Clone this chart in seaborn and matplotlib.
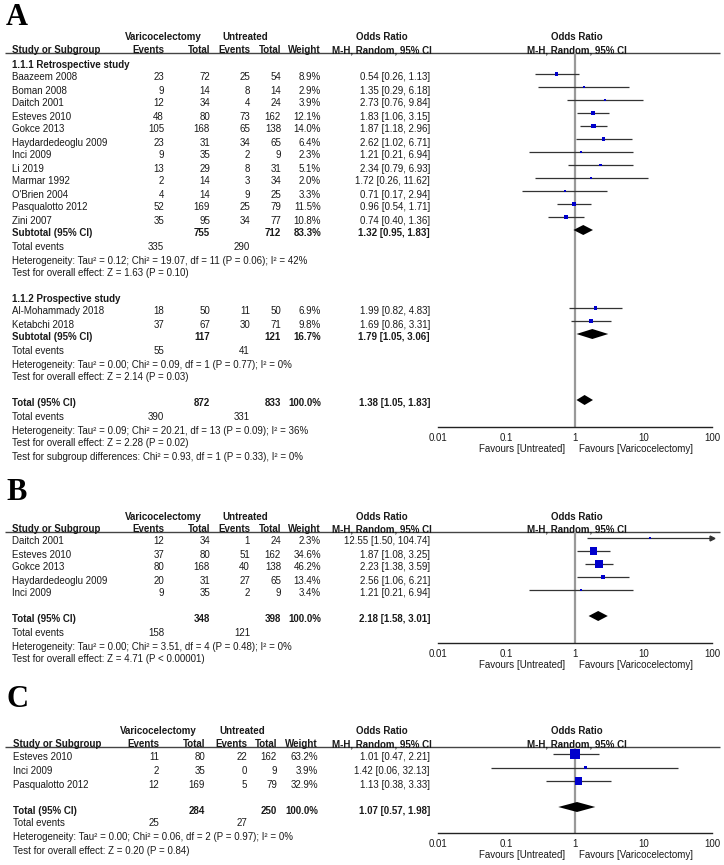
import numpy as np
import pandas as pd
import matplotlib
matplotlib.use("Agg")
import matplotlib.pyplot as plt
import seaborn as sns
from matplotlib.ticker import FixedLocator, FixedFormatter, NullLocator

sns.set_style("white")
plt.rcParams['font.family'] = ['Liberation Sans', 'DejaVu Sans']

# ---------------- DATA ----------------
# Panel A
A_study = ["Baazeem 2008", "Boman 2008", "Daitch 2001", "Esteves 2010", "Gokce 2013",
           "Haydardedeoglu 2009", "Inci 2009", "Li 2019", "Marmar 1992", "O'Brien 2004",
           "Pasqualotto 2012", "Zini 2007", "Al-Mohammady 2018", "Ketabchi 2018"]
A_group = [0] * 12 + [1] * 2
A_var_events = [23, 9, 12, 48, 105, 23, 9, 13, 2, 4, 52, 35, 18, 37]
A_var_total = [72, 14, 34, 80, 168, 31, 35, 29, 14, 14, 169, 95, 50, 67]
A_unt_events = [25, 8, 4, 73, 65, 34, 2, 8, 3, 9, 25, 34, 11, 30]
A_unt_total = [54, 14, 24, 162, 138, 65, 9, 31, 34, 25, 79, 77, 50, 71]
A_weight = [8.9, 2.9, 3.9, 12.1, 14.0, 6.4, 2.3, 5.1, 2.0, 3.3, 11.5, 10.8, 6.9, 9.8]
A_or = [0.54, 1.35, 2.73, 1.83, 1.87, 2.62, 1.21, 2.34, 1.72, 0.71, 0.96, 0.74, 1.99, 1.69]
A_lo = [0.26, 0.29, 0.76, 1.06, 1.18, 1.02, 0.21, 0.79, 0.26, 0.17, 0.54, 0.40, 0.82, 0.86]
A_hi = [1.13, 6.18, 9.84, 3.15, 2.96, 6.71, 6.94, 6.93, 11.62, 2.94, 1.71, 1.36, 4.83, 3.31]

A_sub_title = ["1.1.1 Retrospective study", "1.1.2 Prospective study"]
A_sub_var_total = [755, 117]
A_sub_unt_total = [712, 121]
A_sub_weight = [83.3, 16.7]
A_sub_or = [1.32, 1.79]
A_sub_lo = [0.95, 1.05]
A_sub_hi = [1.83, 3.06]
A_sub_var_events = [335, 55]
A_sub_unt_events = [290, 41]
A_sub_het = ["Heterogeneity: Tau\u00b2 = 0.12; Chi\u00b2 = 19.07, df = 11 (P = 0.06); I\u00b2 = 42%",
             "Heterogeneity: Tau\u00b2 = 0.00; Chi\u00b2 = 0.09, df = 1 (P = 0.77); I\u00b2 = 0%"]
A_sub_test = ["Test for overall effect: Z = 1.63 (P = 0.10)",
              "Test for overall effect: Z = 2.14 (P = 0.03)"]

A_tot = dict(var_total=872, unt_total=833, weight=100.0, orv=1.38, lo=1.05, hi=1.83,
             var_events=390, unt_events=331,
             het="Heterogeneity: Tau\u00b2 = 0.09; Chi\u00b2 = 20.21, df = 13 (P = 0.09); I\u00b2 = 36%",
             test="Test for overall effect: Z = 2.28 (P = 0.02)")
A_subgroup_diff = "Test for subgroup differences: Chi\u00b2 = 0.93, df = 1 (P = 0.33), I\u00b2 = 0%"

# Panel B
B_study = ["Daitch 2001", "Esteves 2010", "Gokce 2013", "Haydardedeoglu 2009", "Inci 2009"]
B_var_events = [12, 37, 80, 20, 9]
B_var_total = [34, 80, 168, 31, 35]
B_unt_events = [1, 51, 40, 27, 2]
B_unt_total = [24, 162, 138, 65, 9]
B_weight = [2.3, 34.6, 46.2, 13.4, 3.4]
B_or = [12.55, 1.87, 2.23, 2.56, 1.21]
B_lo = [1.50, 1.08, 1.38, 1.06, 0.21]
B_hi = [104.74, 3.25, 3.59, 6.21, 6.94]
B_tot = dict(var_total=348, unt_total=398, weight=100.0, orv=2.18, lo=1.58, hi=3.01,
             var_events=158, unt_events=121,
             het="Heterogeneity: Tau\u00b2 = 0.00; Chi\u00b2 = 3.51, df = 4 (P = 0.48); I\u00b2 = 0%",
             test="Test for overall effect: Z = 4.71 (P < 0.00001)")

# Panel C
C_study = ["Esteves 2010", "Inci 2009", "Pasqualotto 2012"]
C_var_events = [11, 2, 12]
C_var_total = [80, 35, 169]
C_unt_events = [22, 0, 5]
C_unt_total = [162, 9, 79]
C_weight = [63.2, 3.9, 32.9]
C_or = [1.01, 1.42, 1.13]
C_lo = [0.47, 0.06, 0.38]
C_hi = [2.21, 32.13, 3.33]
C_tot = dict(var_total=284, unt_total=250, weight=100.0, orv=1.07, lo=0.57, hi=1.98,
             var_events=25, unt_events=27,
             het="Heterogeneity: Tau\u00b2 = 0.00; Chi\u00b2 = 0.06, df = 2 (P = 0.97); I\u00b2 = 0%",
             test="Test for overall effect: Z = 0.20 (P = 0.84)")

TICKS = [0.01, 0.1, 1, 10, 100]
TICK_LABELS = ["0.01", "0.1", "1", "10", "100"]
FAV_LEFT = "Favours [Untreated]"
FAV_RIGHT = "Favours [Varicocelectomy]"

# ---------------- STYLE / LAYOUT ----------------
W, H = 724, 865
TXT = "#1a1a1a"
CI_COL = "#333333"
SQ_COL = "#0000CC"
FS = 7
X0, X1 = 438, 712  # pixel span of 0.01 .. 100

COLS_AB = dict(study=12, ve=164, vt=210, ue=250, ut=281, w=321, orr=430,
               vhead=163, uhead=245, orhead=382)
COLS_C = dict(study=13, ve=159, vt=205, ue=247, ut=277, w=318, orr=430,
              vhead=158, uhead=242, orhead=382)

fig = plt.figure(figsize=(W / 100, H / 100), dpi=100)
ax0 = fig.add_axes([0, 0, 1, 1])
ax0.set_xlim(0, W)
ax0.set_ylim(H, 0)
ax0.axis('off')


def txt(x, y, s, ha='left', bold=False, size=FS):
    ax0.text(x, y + 3.5, s, ha=ha, va='baseline', fontsize=size,
             fontweight='bold' if bold else 'normal', color=TXT)


def panel_label(s, y_base):
    ax0.text(6, y_base, s, ha='left', va='baseline', fontsize=22, fontweight='bold',
             family=['Liberation Serif', 'DejaVu Serif'], color='black')


def header(line_y, cols):
    ax0.plot([5, 720], [line_y, line_y], color='#444444', lw=1.0, solid_capstyle='butt')
    h1 = line_y - 16
    ax0.text(cols['vhead'], h1 + 3.5, "Varicocelectomy", ha='center', va='baseline',
             fontsize=FS, fontweight='bold', color=TXT)
    ax0.text(cols['uhead'], h1 + 3.5, "Untreated", ha='center', va='baseline',
             fontsize=FS, fontweight='bold', color=TXT)
    ax0.text(cols['orhead'], h1 + 3.5, "Odds Ratio", ha='center', va='baseline',
             fontsize=FS, fontweight='bold', color=TXT)
    ax0.text(577, h1 + 3.5, "Odds Ratio", ha='center', va='baseline',
             fontsize=FS, fontweight='bold', color=TXT)
    b = line_y + 0.3
    kw = dict(va='baseline', fontsize=FS, fontweight='bold', color=TXT)
    ax0.text(cols['study'], b, "Study or Subgroup", ha='left', **kw)
    ax0.text(cols['ve'], b, "Events", ha='right', **kw)
    ax0.text(cols['vt'], b, "Total", ha='right', **kw)
    ax0.text(cols['ue'], b, "Events", ha='right', **kw)
    ax0.text(cols['ut'], b, "Total", ha='right', **kw)
    ax0.text(cols['w'], b, "Weight", ha='right', **kw)
    ax0.text(cols['orhead'], b, "M-H, Random, 95% CI", ha='center', **kw)
    ax0.text(577, b, "M-H, Random, 95% CI", ha='center', **kw)


def forest_ax(y_top, y_axis, y_fav):
    ax = fig.add_axes([X0 / W, 1 - y_axis / H, (X1 - X0) / W, (y_axis - y_top) / H])
    ax.set_xscale('log')
    ax.set_xlim(0.01, 100)
    ax.set_ylim(y_axis, y_top)
    ax.patch.set_alpha(0)
    for s in ['top', 'left', 'right']:
        ax.spines[s].set_visible(False)
    ax.spines['bottom'].set_color('#222222')
    ax.spines['bottom'].set_linewidth(1.0)
    ax.xaxis.set_major_locator(FixedLocator(TICKS))
    ax.xaxis.set_major_formatter(FixedFormatter(TICK_LABELS))
    ax.xaxis.set_minor_locator(NullLocator())
    ax.tick_params(axis='x', direction='inout', length=6, width=1.0, color='#222222',
                   labelsize=FS, labelcolor=TXT, pad=1.2)
    ax.set_yticks([])
    ax.set_xlabel("")
    ax.set_ylabel("")
    ax.axvline(1, color='#999999', lw=1.6, zorder=1)
    ax0.text(565, y_fav + 3.5, FAV_LEFT, ha='right', va='baseline', fontsize=FS, color=TXT)
    ax0.text(579, y_fav + 3.5, FAV_RIGHT, ha='left', va='baseline', fontsize=FS, color=TXT)
    return ax


def study_rows(ax, cols, ys, names, ve, vt, ue, ut, w, orv, lo, hi):
    for i in range(len(names)):
        y = ys[i]
        txt(cols['study'], y, names[i])
        txt(cols['ve'], y, str(ve[i]), 'right')
        txt(cols['vt'], y, str(vt[i]), 'right')
        txt(cols['ue'], y, str(ue[i]), 'right')
        txt(cols['ut'], y, str(ut[i]), 'right')
        txt(cols['w'], y, f"{w[i]:.1f}%", 'right')
        txt(cols['orr'], y, f"{orv[i]:.2f} [{lo[i]:.2f}, {hi[i]:.2f}]", 'right')
    my = np.array(ys, dtype=float) - 3
    ax.hlines(my, lo, np.minimum(hi, 100), color=CI_COL, lw=0.9, zorder=2)
    for i in range(len(names)):
        if hi[i] > 100:
            ax.plot([100], [my[i]], marker='>', ms=3.5, color=CI_COL, clip_on=False, zorder=3)
    df = pd.DataFrame({"or": orv, "y": my, "w": w})
    sizes = np.maximum(0.78 * df["w"].values, 2.2)
    sns.scatterplot(data=df, x="or", y="y", marker='s', s=sizes, color=SQ_COL,
                    linewidth=0, ax=ax, legend=False, zorder=4)
    ax.set_xlabel("")
    ax.set_ylabel("")


def total_row(ax, cols, y, label, vt, ut, w, orv, lo, hi):
    txt(cols['study'], y, label, bold=True)
    txt(cols['vt'], y, str(vt), 'right', bold=True)
    txt(cols['ut'], y, str(ut), 'right', bold=True)
    txt(cols['w'], y, f"{w:.1f}%", 'right', bold=True)
    txt(cols['orr'], y, f"{orv:.2f} [{lo:.2f}, {hi:.2f}]", 'right', bold=True)
    yc = y - 3
    ax.fill([lo, orv, hi, orv], [yc, yc - 5, yc, yc + 5], color='black', lw=0, zorder=5)


def summary_rows(cols, y_te, y_het, y_test, ve, ue, het, test):
    txt(cols['study'], y_te, "Total events")
    txt(cols['ve'], y_te, str(ve), 'right')
    txt(cols['ue'], y_te, str(ue), 'right')
    txt(cols['study'], y_het, het)
    txt(cols['study'], y_test, test)


# ---------------- PANEL A ----------------
panel_label("A", 25)
header(53, COLS_AB)
axA = forest_ax(53, 427, 448)
idx1 = [i for i, g in enumerate(A_group) if g == 0]
idx2 = [i for i, g in enumerate(A_group) if g == 1]
ys1 = [77 + 13 * k for k in range(len(idx1))]
ys2 = [311 + 13 * k for k in range(len(idx2))]
sub_y = [[64, ys1, 233, 247, 260, 273], [298, ys2, 337, 351, 364, 377]]
for g, idx in enumerate([idx1, idx2]):
    ty, ys, suby, tey, hety, testy = sub_y[g]
    txt(COLS_AB['study'], ty, A_sub_title[g], bold=True)
    pick = lambda arr: [arr[i] for i in idx]
    study_rows(axA, COLS_AB, ys, pick(A_study), pick(A_var_events), pick(A_var_total),
               pick(A_unt_events), pick(A_unt_total), pick(A_weight), pick(A_or),
               pick(A_lo), pick(A_hi))
    total_row(axA, COLS_AB, suby, "Subtotal (95% CI)", A_sub_var_total[g], A_sub_unt_total[g],
              A_sub_weight[g], A_sub_or[g], A_sub_lo[g], A_sub_hi[g])
    summary_rows(COLS_AB, tey, hety, testy, A_sub_var_events[g], A_sub_unt_events[g],
                 A_sub_het[g], A_sub_test[g])
total_row(axA, COLS_AB, 403, "Total (95% CI)", A_tot['var_total'], A_tot['unt_total'],
          A_tot['weight'], A_tot['orv'], A_tot['lo'], A_tot['hi'])
summary_rows(COLS_AB, 416, 430, 443, A_tot['var_events'], A_tot['unt_events'],
             A_tot['het'], A_tot['test'])
txt(COLS_AB['study'], 456, A_subgroup_diff)

# ---------------- PANEL B ----------------
panel_label("B", 500)
header(532, COLS_AB)
axB = forest_ax(532, 643, 664)
ysB = [541 + 13 * k for k in range(len(B_study))]
study_rows(axB, COLS_AB, ysB, B_study, B_var_events, B_var_total, B_unt_events,
           B_unt_total, B_weight, B_or, B_lo, B_hi)
total_row(axB, COLS_AB, 619, "Total (95% CI)", B_tot['var_total'], B_tot['unt_total'],
          B_tot['weight'], B_tot['orv'], B_tot['lo'], B_tot['hi'])
summary_rows(COLS_AB, 633, 646, 659, B_tot['var_events'], B_tot['unt_events'],
             B_tot['het'], B_tot['test'])

# ---------------- PANEL C ----------------
panel_label("C", 707)
header(747, COLS_C)
axC = forest_ax(747, 833, 855)
ysC = [757 + 13.5 * k for k in range(len(C_study))]
study_rows(axC, COLS_C, ysC, C_study, C_var_events, C_var_total, C_unt_events,
           C_unt_total, C_weight, C_or, C_lo, C_hi)
total_row(axC, COLS_C, 810, "Total (95% CI)", C_tot['var_total'], C_tot['unt_total'],
          C_tot['weight'], C_tot['orv'], C_tot['lo'], C_tot['hi'])
summary_rows(COLS_C, 823, 837, 850, C_tot['var_events'], C_tot['unt_events'],
             C_tot['het'], C_tot['test'])

fig.savefig("out.png", dpi=100)
